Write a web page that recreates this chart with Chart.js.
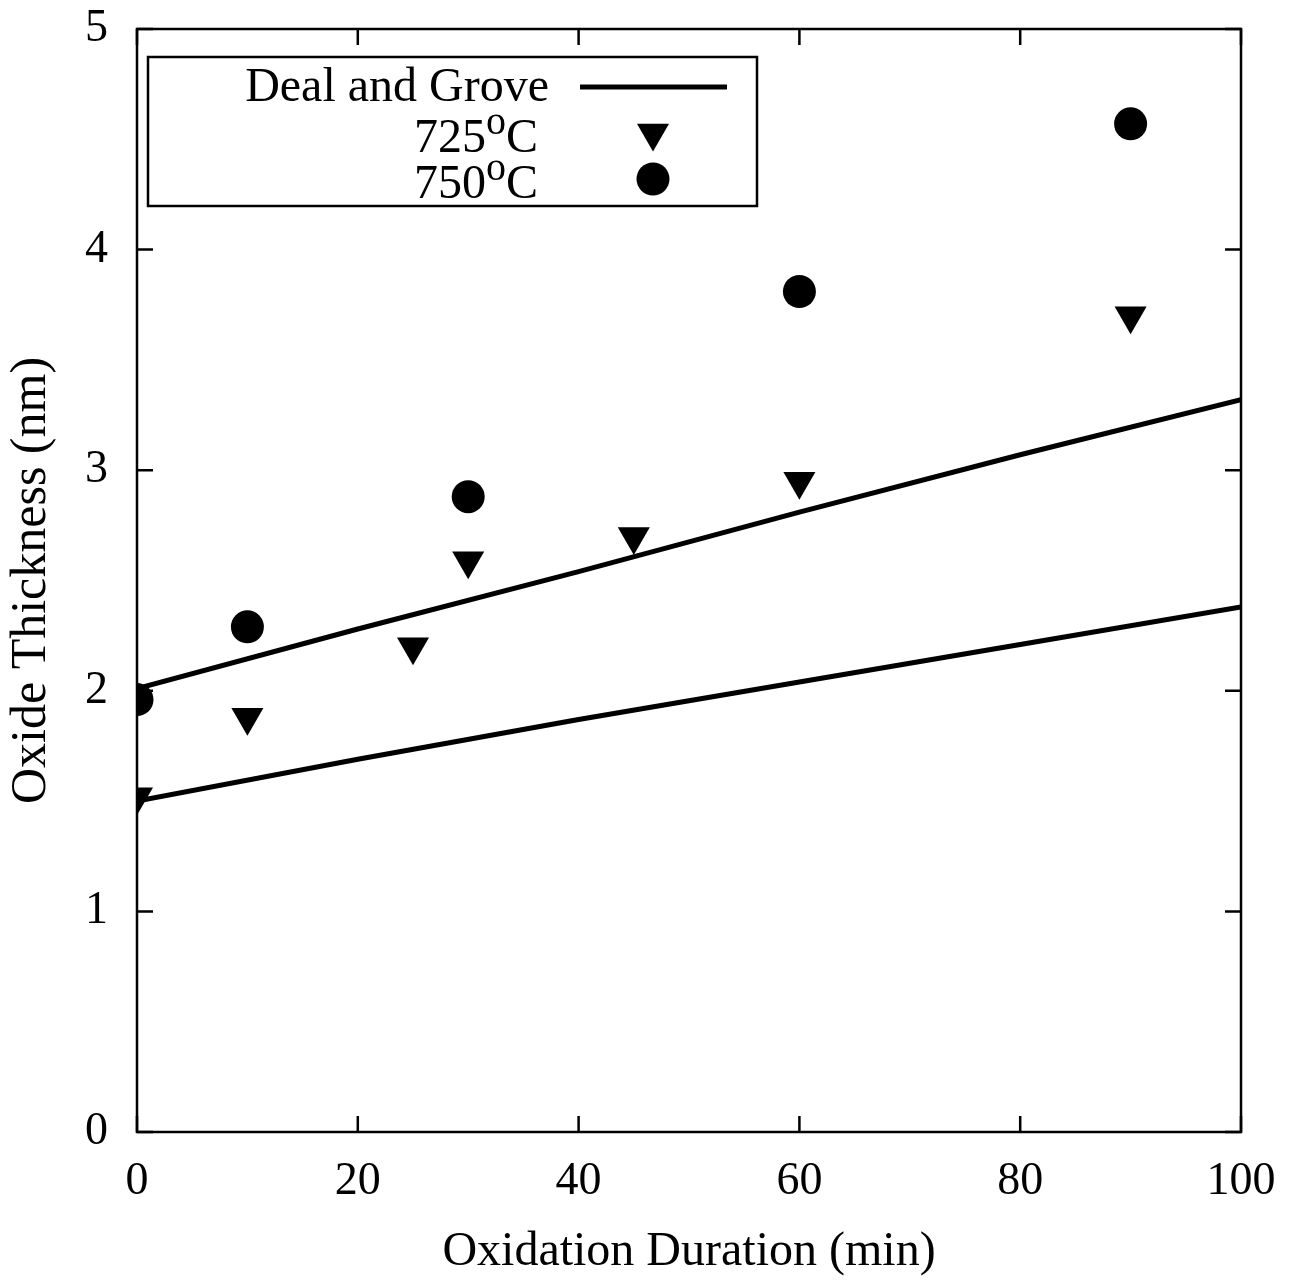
<!DOCTYPE html>
<html>
<head>
<meta charset="utf-8">
<title>Oxide Thickness vs Oxidation Duration</title>
<script src="https://cdn.jsdelivr.net/npm/chart.js@4.4.1/dist/chart.umd.min.js"></script>
<style>
  html, body { margin: 0; padding: 0; background: #ffffff; }
  #oxideChart { display: block; }
</style>
</head>
<body>
<canvas id="oxideChart" width="1294" height="1281"></canvas>
<script>
const durations725 = [0, 10, 25, 30, 45, 60, 90];
const thickness725 = [1.52, 1.88, 2.20, 2.59, 2.70, 2.95, 3.70];

const durations750 = [0, 10, 30, 60, 90];
const thickness750 = [1.96, 2.29, 2.88, 3.81, 4.57];

// Deal and Grove model curves
const modelDurations = [0, 20, 40, 60, 80, 100];
const modelUpper = [2.01, 2.28, 2.54, 2.81, 3.07, 3.32];
const modelLower = [1.50, 1.69, 1.87, 2.04, 2.21, 2.38];

const xTicks = [0, 20, 40, 60, 80, 100];
const yTicks = [0, 1, 2, 3, 4, 5];

const seriesNames = ["Deal and Grove", "725", "750"];
const degreeMark = "o";
const unitMark = "C";

const xTitle = "Oxidation Duration (min)";
const yTitle = "Oxide Thickness (nm)";

const serif = "'Liberation Serif', 'Times New Roman', serif";

function toPoints(xs, ys) {
  return xs.map(function (x, i) {
    return { x: x, y: ys[i] };
  });
}

// gnuplot-style frame with inward ticks on all four sides
const frameTicks = {
  id: "frameTicks",
  afterDatasetsDraw(chart) {
    const ctx = chart.ctx;
    const area = chart.chartArea;
    const xs = chart.scales.x;
    const ys = chart.scales.y;
    const len = 16;

    ctx.save();
    ctx.strokeStyle = "#000";
    ctx.lineWidth = 2.5;
    ctx.beginPath();

    xTicks.forEach(function (v) {
      const px = xs.getPixelForValue(v);
      ctx.moveTo(px, area.bottom);
      ctx.lineTo(px, area.bottom - len);
      ctx.moveTo(px, area.top);
      ctx.lineTo(px, area.top + len);
    });

    yTicks.forEach(function (v) {
      const py = ys.getPixelForValue(v);
      ctx.moveTo(area.left, py);
      ctx.lineTo(area.left + len, py);
      ctx.moveTo(area.right, py);
      ctx.lineTo(area.right - len, py);
    });
    ctx.stroke();

    ctx.strokeRect(area.left, area.top, area.right - area.left, area.bottom - area.top);
    ctx.restore();
  }
};

// legend box in the upper left, text right-aligned with sample on the right
const boxLegend = {
  id: "boxLegend",
  afterDraw(chart) {
    const ctx = chart.ctx;
    const bigFont = "48px " + serif;
    const supFont = "40px " + serif;

    ctx.save();
    ctx.fillStyle = "#fff";
    ctx.fillRect(148, 57, 609, 149);
    ctx.strokeStyle = "#000";
    ctx.lineWidth = 2.5;
    ctx.strokeRect(148, 57, 609, 149);

    ctx.fillStyle = "#000";
    ctx.textBaseline = "alphabetic";

    // Deal and Grove
    ctx.font = bigFont;
    ctx.textAlign = "right";
    ctx.fillText(seriesNames[0], 549, 101);
    ctx.lineWidth = 5;
    ctx.beginPath();
    ctx.moveTo(580, 87);
    ctx.lineTo(727, 87);
    ctx.stroke();

    // temperature entries with superscript degree
    const rows = [
      { name: seriesNames[1], base: 152, markY: 133, style: "triangle" },
      { name: seriesNames[2], base: 198, markY: 179, style: "circle" }
    ];

    rows.forEach(function (row) {
      const right = 538;
      ctx.textAlign = "left";
      ctx.font = bigFont;
      const wC = ctx.measureText(unitMark).width;
      const wNum = ctx.measureText(row.name).width;
      ctx.font = supFont;
      const wSup = ctx.measureText(degreeMark).width;
      const start = right - wC - wSup - wNum;

      ctx.font = bigFont;
      ctx.fillText(row.name, start, row.base);
      ctx.font = supFont;
      ctx.fillText(degreeMark, start + wNum, row.base - 18);
      ctx.font = bigFont;
      ctx.fillText(unitMark, start + wNum + wSup, row.base);

      ctx.beginPath();
      if (row.style === "triangle") {
        const r = 18.5;
        ctx.moveTo(653, row.markY + r);
        ctx.lineTo(653 - r * Math.sqrt(3) / 2, row.markY - r / 2);
        ctx.lineTo(653 + r * Math.sqrt(3) / 2, row.markY - r / 2);
        ctx.closePath();
      } else {
        ctx.arc(653, row.markY, 16.5, 0, Math.PI * 2);
      }
      ctx.fill();
    });

    ctx.restore();
  }
};

const ctx = document.getElementById("oxideChart").getContext("2d");

new Chart(ctx, {
  type: "scatter",
  data: {
    datasets: [
      {
        label: seriesNames[0],
        type: "line",
        data: toPoints(modelDurations, modelUpper),
        borderColor: "#000",
        borderWidth: 5,
        pointRadius: 0,
        fill: false,
        tension: 0
      },
      {
        label: seriesNames[0],
        type: "line",
        data: toPoints(modelDurations, modelLower),
        borderColor: "#000",
        borderWidth: 5,
        pointRadius: 0,
        fill: false,
        tension: 0
      },
      {
        label: seriesNames[1],
        data: toPoints(durations725, thickness725),
        pointStyle: "triangle",
        rotation: 180,
        pointRadius: 18.5,
        pointBorderWidth: 0,
        backgroundColor: "#000",
        borderColor: "#000"
      },
      {
        label: seriesNames[2],
        data: toPoints(durations750, thickness750),
        pointStyle: "circle",
        pointRadius: 16.5,
        pointBorderWidth: 0,
        backgroundColor: "#000",
        borderColor: "#000"
      }
    ]
  },
  options: {
    responsive: false,
    animation: false,
    events: [],
    layout: {
      padding: { top: 29, right: 53, bottom: 0, left: 0 }
    },
    plugins: {
      legend: { display: false },
      tooltip: { enabled: false }
    },
    scales: {
      x: {
        type: "linear",
        min: 0,
        max: 100,
        afterBuildTicks: function (scale) {
          scale.ticks = xTicks.map(function (v) { return { value: v }; });
        },
        afterFit: function (scale) {
          scale.height = 149;
          scale.paddingLeft = 0;
          scale.paddingRight = 0;
        },
        grid: { display: false, drawTicks: false },
        border: { display: false },
        ticks: {
          color: "#000",
          padding: 22,
          maxRotation: 0,
          font: { family: serif, size: 46 }
        },
        title: {
          display: true,
          text: xTitle,
          color: "#000",
          font: { family: serif, size: 48 },
          padding: { top: 0, bottom: 0 }
        }
      },
      y: {
        type: "linear",
        min: 0,
        max: 5,
        afterBuildTicks: function (scale) {
          scale.ticks = yTicks.map(function (v) { return { value: v }; });
        },
        afterFit: function (scale) {
          scale.width = 137;
          scale.paddingTop = 0;
          scale.paddingBottom = 0;
        },
        grid: { display: false, drawTicks: false },
        border: { display: false },
        ticks: {
          color: "#000",
          padding: 29,
          font: { family: serif, size: 46 }
        },
        title: {
          display: true,
          text: yTitle,
          color: "#000",
          font: { family: serif, size: 50 },
          padding: { top: 2, bottom: 0 }
        }
      }
    }
  },
  plugins: [frameTicks, boxLegend]
});
</script>
</body>
</html>
